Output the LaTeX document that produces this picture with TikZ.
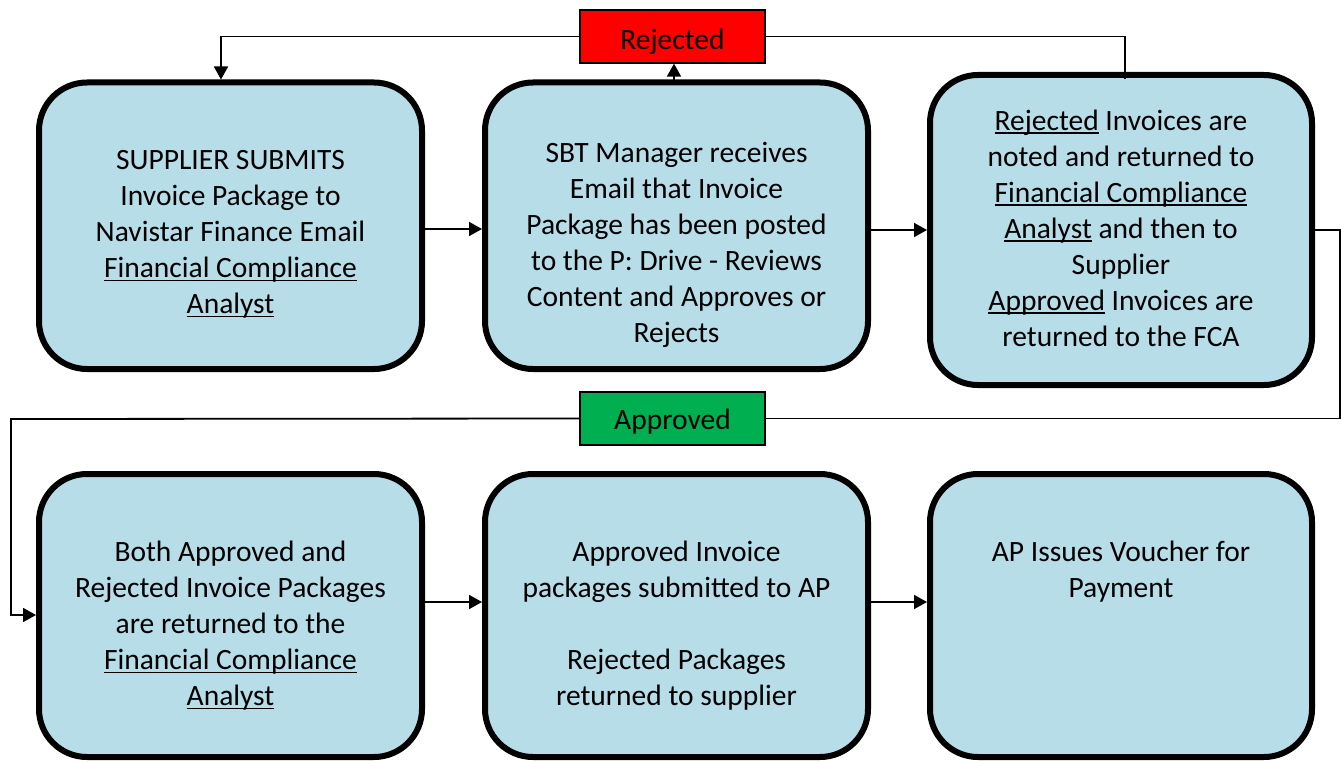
\documentclass[tikz,border=0pt]{standalone}
\usepackage{fontspec}
\setmainfont{Carlito}
\usetikzlibrary{arrows.meta,calc}
\definecolor{boxblue}{HTML}{B7DDE8}
\definecolor{rejred}{HTML}{FF0000}
\definecolor{appgreen}{HTML}{00B050}
\newcommand{\uln}[1]{\setbox0\hbox{#1}\leavevmode\rlap{\rule[-3.5pt]{\wd0}{1.6pt}}\copy0\relax}
\begin{document}
\begin{tikzpicture}[x=1pt,y=-1pt,
  stepbox/.style={draw=black,line width=6pt,fill=boxblue,rounded corners=48pt,
    minimum width=383pt,inner sep=0pt},
  txt/.style={align=center,font=\fontsize{29.5}{36}\selectfont,inner sep=0pt},
  tag/.style={draw=black,line width=1.3pt,minimum width=185pt,minimum height=53pt,
    inner sep=0pt,text depth=0pt,font=\fontsize{29.5}{36}\selectfont},
  conn/.style={line width=1.8pt,draw=black},
  arr/.style={conn,-{Triangle[length=13pt,width=14pt]}}
]
\useasboundingbox (0,0) rectangle (1341,762);
% boxes
\node[stepbox,minimum height=286.5pt] (b1) at (230.5,225.75) {};
\node[stepbox,minimum height=286.5pt] (b2) at (676.5,225.75) {};
\node[stepbox,minimum width=382pt,minimum height=310pt] (b3) at (1121,230) {};
\node[stepbox,minimum height=283pt] (b4) at (230.5,615.5) {};
\node[stepbox,minimum height=283pt] (b5) at (676.5,615.5) {};
\node[stepbox,minimum width=382pt,minimum height=283pt] (b6) at (1121,615.5) {};
% tags
\node[tag,fill=rejred,text height=26pt] (rej) at (672.5,36.5) {Rejected};
\node[tag,fill=appgreen,text height=22pt] (app) at (672.5,418.5) {Approved};
% texts
\node[txt] (t1) at (230.5,234.5) {\strut SUPPLIER SUBMITS\\Invoice Package to\\Navistar Finance Email\\\uln{Financial Compliance}\\\strut\uln{Analyst}};
\node[txt] (t2) at (676.5,245) {\strut SBT Manager receives\\Email that Invoice\\Package has been posted\\to the P: Drive - Reviews\\Content and Approves or\\\strut Rejects};
\node[txt] (t3) at (1121,231) {\strut\uln{Rejected} Invoices are\\noted and returned to\\\uln{Financial Compliance}\\\uln{Analyst} and then to\\Supplier\\\uln{Approved} Invoices are\\\strut returned to the FCA};
\node[txt] (t4) at (230.5,626.5) {\strut Both Approved and\\Rejected Invoice Packages\\are returned to the\\\uln{Financial Compliance}\\\strut\uln{Analyst}};
\node[txt] (t5) at (676.5,626.5) {\strut Approved Invoice\\packages submitted to AP\\\strut\\Rejected Packages\\\strut returned to supplier};
\node[txt] (t6) at (1121,572.5) {\strut AP Issues Voucher for\\\strut Payment};
% connectors
\draw[arr] (b1.east |- 0,229) -- (b2.west |- 0,229);
\draw[arr] (b2.east |- 0,230) -- (b3.west |- 0,230);
\draw[arr] (b4.east |- 0,602) -- (b5.west |- 0,602);
\draw[arr] (b5.east |- 0,602) -- (b6.west |- 0,602);
\draw[arr] (rej.west) -| ([xshift=-9.5pt]b1.north);
\draw[arr] (rej.south -| 674,0) ++(0,20) -- (rej.south -| 674,0);
\draw[conn] ([xshift=4pt,yshift=-7pt]b3.north) |- (rej.east);
\coordinate (rc) at (1340,230);
\draw[conn] (b3.east |- rc) -- (rc) |- (app.east);
\coordinate (lc) at (11,419);
\draw[arr] (app.west) -- (lc) |- (b4.west |- 0,615);
\end{tikzpicture}
\end{document}
